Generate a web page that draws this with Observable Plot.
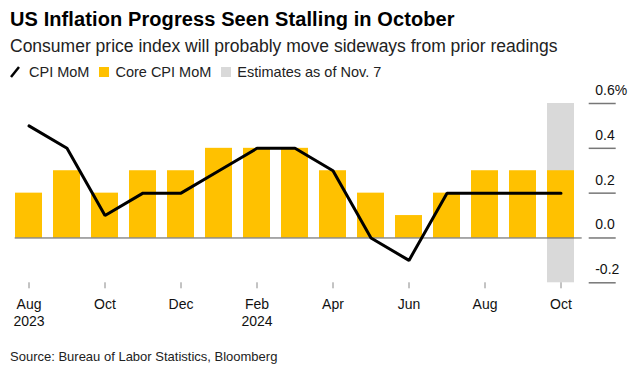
<!DOCTYPE html>
<html>
<head>
<meta charset="utf-8">
<script src="https://cdn.jsdelivr.net/npm/d3@7"></script>
<script src="https://cdn.jsdelivr.net/npm/@observablehq/plot@0.6"></script>
<style>
  html, body { margin: 0; padding: 0; background: #fff; }
  body { width: 633px; font-family: "Liberation Sans", Arial, sans-serif; color: #000; }
  .title { font-weight: bold; font-size: 20px; line-height: 24px; height: 24px; padding: 7.2px 0 0 10px; letter-spacing: 0.1px; white-space: nowrap; }
  .subtitle { font-size: 17.5px; line-height: 22px; height: 22px; margin-top: 3.8px; padding-left: 10px; color: #222; white-space: nowrap; }
  .legend { font-size: 14.5px; line-height: 20px; height: 20px; margin-top: 4.7px; padding-left: 10px; display: flex; align-items: center; color: #222; white-space: nowrap; }
  .legend .item { display: flex; align-items: center; margin-right: 10px; }
  .legend .sw { width: 10px; height: 10px; margin-right: 6px; display: inline-block; }
  .legend svg { margin-right: 9px; }
  .source { font-size: 13px; line-height: 16px; padding-left: 10px; margin-top: 17px; color: #222; white-space: nowrap; }
  #chart svg { display: block; }
</style>
</head>
<body>
<div class="title">US Inflation Progress Seen Stalling in October</div>
<div class="subtitle">Consumer price index will probably move sideways from prior readings</div>
<div class="legend">
  <span class="item"><svg width="10" height="12"><line x1="1" y1="11" x2="9" y2="1" stroke="#000" stroke-width="2.5"/></svg>CPI MoM</span>
  <span class="item"><span class="sw" style="background:#ffc100"></span>Core CPI MoM</span>
  <span class="item"><span class="sw" style="background:#d9d9d9"></span>Estimates as of Nov. 7</span>
</div>
<div id="chart"></div>
<div class="source">Source: Bureau of Labor Statistics, Bloomberg</div>
<script>
const months = ["2023-08","2023-09","2023-10","2023-11","2023-12","2024-01","2024-02","2024-03","2024-04","2024-05","2024-06","2024-07","2024-08","2024-09","2024-10"];
const cpiMoM = [0.5, 0.4, 0.1, 0.2, 0.2, 0.3, 0.4, 0.4, 0.3, 0.0, -0.1, 0.2, 0.2, 0.2, 0.2];
const coreMoM = [0.2, 0.3, 0.2, 0.3, 0.3, 0.4, 0.4, 0.4, 0.3, 0.2, 0.1, 0.2, 0.3, 0.3, 0.3];
const estimateMonths = ["2024-10"];
const yDomain = [-0.2, 0.6];
const yTicks = [-0.2, 0, 0.2, 0.4, 0.6];
const yTickLabels = ["-0.2", "0.0", "0.2", "0.4", "0.6%"];
const xTicks = ["2023-08","2023-10","2023-12","2024-02","2024-04","2024-06","2024-08","2024-10"];
const xTickLabels = ["Aug\n2023","Oct","Dec","Feb\n2024","Apr","Jun","Aug","Oct"];

const data = months.map((m, i) => ({month: m, cpi: cpiMoM[i], core: coreMoM[i]}));
const est = estimateMonths.map(m => ({month: m, lo: yDomain[0], hi: yDomain[1]}));
const yLab = new Map(yTicks.map((t, i) => [t, yTickLabels[i]]));
const xLab = new Map(xTicks.map((t, i) => [t, xTickLabels[i]]));

const chart = Plot.plot({
  width: 633,
  height: 250,
  marginTop: 21,
  marginBottom: 49.7,
  marginLeft: 14.7,
  marginRight: 51.3,
  style: {fontFamily: "'Liberation Sans', Arial, sans-serif", background: "#fff"},
  x: {type: "band", domain: months, range: [14.7, 573.6], paddingInner: 0.3, paddingOuter: 0},
  y: {domain: yDomain},
  marks: [
    Plot.barY(est, {x: "month", y1: "lo", y2: "hi", fill: "#d9d9d9"}),
    Plot.barY(data, {x: "month", y: "core", fill: "#ffc100"}),
    Plot.ruleY([0], {stroke: "#555", strokeWidth: 1}),
    Plot.line(data, {x: "month", y: "cpi", stroke: "#000", strokeWidth: 3, strokeLinejoin: "miter"}),
    Plot.axisX({ticks: xTicks, tickSize: 6, tickPadding: 8.5, stroke: "#888", tickFormat: d => xLab.get(d), fontSize: 14, lineHeight: 1.19, fill: "#111", label: null}),
    Plot.axisY({anchor: "right", ticks: yTicks, tickSize: 27, dx: 6, tickFormat: () => "", stroke: "#777", strokeWidth: 1.5, label: null}),
    Plot.axisY({anchor: "right", ticks: yTicks, tickSize: 0, tickPadding: 13, textAnchor: "start", lineAnchor: "bottom", dy: -8.5, tickFormat: d => yLab.get(d), fontSize: 14, fill: "#111", label: null})
  ]
});
document.getElementById("chart").appendChild(chart);
</script>
</body>
</html>
